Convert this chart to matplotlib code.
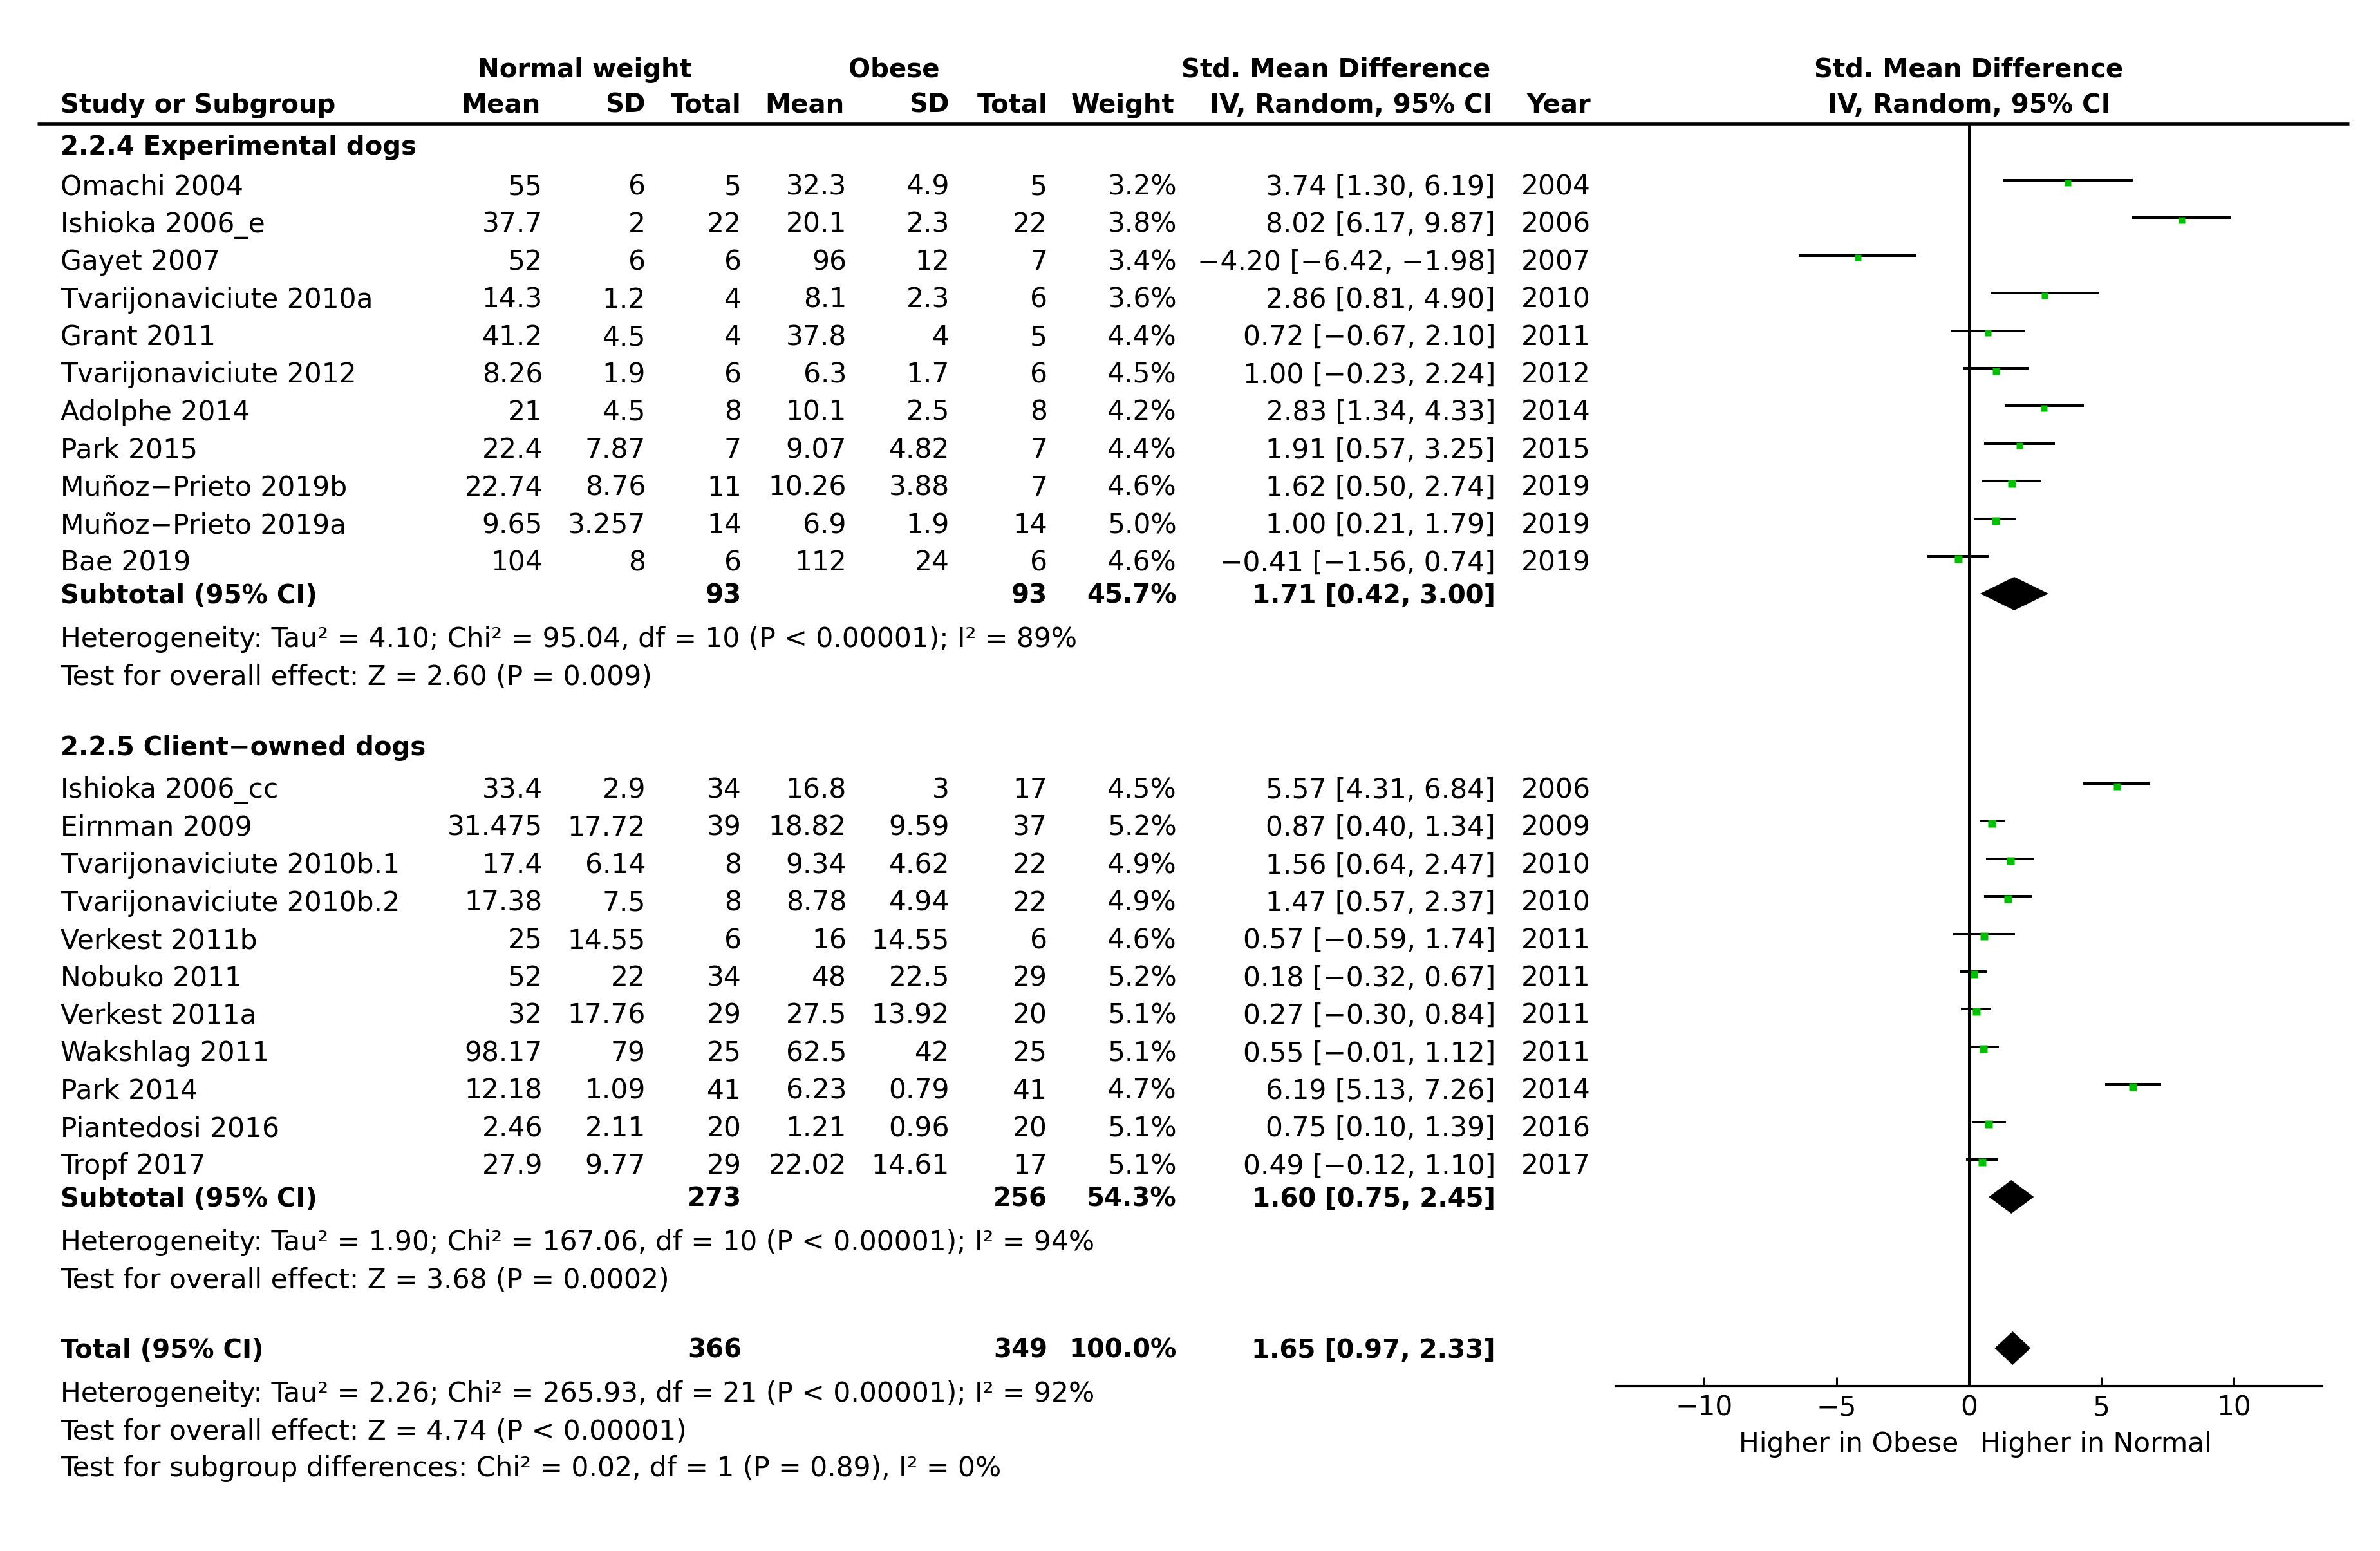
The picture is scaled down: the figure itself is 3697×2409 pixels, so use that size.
import matplotlib
matplotlib.use('Agg')
import matplotlib.pyplot as plt

# ---- data ----
exp_names = ['Omachi 2004', 'Ishioka 2006_e', 'Gayet 2007', 'Tvarijonaviciute 2010a', 'Grant 2011',
             'Tvarijonaviciute 2012', 'Adolphe 2014', 'Park 2015', 'Muñoz−Prieto 2019b',
             'Muñoz−Prieto 2019a', 'Bae 2019']
exp_nm_mean = [55, 37.7, 52, 14.3, 41.2, 8.26, 21, 22.4, 22.74, 9.65, 104]
exp_nm_sd = [6, 2, 6, 1.2, 4.5, 1.9, 4.5, 7.87, 8.76, 3.257, 8]
exp_nm_n = [5, 22, 6, 4, 4, 6, 8, 7, 11, 14, 6]
exp_ob_mean = [32.3, 20.1, 96, 8.1, 37.8, 6.3, 10.1, 9.07, 10.26, 6.9, 112]
exp_ob_sd = [4.9, 2.3, 12, 2.3, 4, 1.7, 2.5, 4.82, 3.88, 1.9, 24]
exp_ob_n = [5, 22, 7, 6, 5, 6, 8, 7, 7, 14, 6]
exp_weight = [3.2, 3.8, 3.4, 3.6, 4.4, 4.5, 4.2, 4.4, 4.6, 5.0, 4.6]
exp_smd = [3.74, 8.02, -4.20, 2.86, 0.72, 1.00, 2.83, 1.91, 1.62, 1.00, -0.41]
exp_lo = [1.30, 6.17, -6.42, 0.81, -0.67, -0.23, 1.34, 0.57, 0.50, 0.21, -1.56]
exp_hi = [6.19, 9.87, -1.98, 4.90, 2.10, 2.24, 4.33, 3.25, 2.74, 1.79, 0.74]
exp_year = [2004, 2006, 2007, 2010, 2011, 2012, 2014, 2015, 2019, 2019, 2019]

cli_names = ['Ishioka 2006_cc', 'Eirnman 2009', 'Tvarijonaviciute 2010b.1', 'Tvarijonaviciute 2010b.2',
             'Verkest 2011b', 'Nobuko 2011', 'Verkest 2011a', 'Wakshlag 2011', 'Park 2014',
             'Piantedosi 2016', 'Tropf 2017']
cli_nm_mean = [33.4, 31.475, 17.4, 17.38, 25, 52, 32, 98.17, 12.18, 2.46, 27.9]
cli_nm_sd = [2.9, 17.72, 6.14, 7.5, 14.55, 22, 17.76, 79, 1.09, 2.11, 9.77]
cli_nm_n = [34, 39, 8, 8, 6, 34, 29, 25, 41, 20, 29]
cli_ob_mean = [16.8, 18.82, 9.34, 8.78, 16, 48, 27.5, 62.5, 6.23, 1.21, 22.02]
cli_ob_sd = [3, 9.59, 4.62, 4.94, 14.55, 22.5, 13.92, 42, 0.79, 0.96, 14.61]
cli_ob_n = [17, 37, 22, 22, 6, 29, 20, 25, 41, 20, 17]
cli_weight = [4.5, 5.2, 4.9, 4.9, 4.6, 5.2, 5.1, 5.1, 4.7, 5.1, 5.1]
cli_smd = [5.57, 0.87, 1.56, 1.47, 0.57, 0.18, 0.27, 0.55, 6.19, 0.75, 0.49]
cli_lo = [4.31, 0.40, 0.64, 0.57, -0.59, -0.32, -0.30, -0.01, 5.13, 0.10, -0.12]
cli_hi = [6.84, 1.34, 2.47, 2.37, 1.74, 0.67, 0.84, 1.12, 7.26, 1.39, 1.10]
cli_year = [2006, 2009, 2010, 2010, 2011, 2011, 2011, 2011, 2014, 2016, 2017]

# subtotal / total: n normal, n obese, weight, smd, lo, hi
sub_labels = ['Subtotal (95% CI)', 'Subtotal (95% CI)', 'Total (95% CI)']
sub_nm_n = [93, 273, 366]
sub_ob_n = [93, 256, 349]
sub_weight = [45.7, 54.3, 100.0]
sub_smd = [1.71, 1.60, 1.65]
sub_lo = [0.42, 0.75, 0.97]
sub_hi = [3.00, 2.45, 2.33]

het_lines = ['Heterogeneity: Tau² = 4.10; Chi² = 95.04, df = 10 (P < 0.00001); I² = 89%',
             'Heterogeneity: Tau² = 1.90; Chi² = 167.06, df = 10 (P < 0.00001); I² = 94%',
             'Heterogeneity: Tau² = 2.26; Chi² = 265.93, df = 21 (P < 0.00001); I² = 92%']
eff_lines = ['Test for overall effect: Z = 2.60 (P = 0.009)',
             'Test for overall effect: Z = 3.68 (P = 0.0002)',
             'Test for overall effect: Z = 4.74 (P < 0.00001)']
subgroup_line = 'Test for subgroup differences: Chi² = 0.02, df = 1 (P = 0.89), I² = 0%'
section_labels = ['2.2.4 Experimental dogs', '2.2.5 Client−owned dogs']
ticks = [-10, -5, 0, 5, 10]

# ---- layout (pixel units of the output image) ----
W, H = 3697, 2409
FS_R = 30.5         # regular text
FS_B = 29           # bold text
GREEN = '#00c000'

x_study = 94
x_nm_mean, x_nm_sd, x_nm_n = 843, 1003, 1152
x_ob_mean, x_ob_sd, x_ob_n = 1315, 1475, 1627
x_w, x_ci, x_year = 1828, 2323, 2363
ax_left, ax_right, ax_top, ax_bot = 2510, 3607, 192, 2153
row_h = 58.4


def half_cap(fs):
    # half of DejaVu cap height in pixels, text is placed by its baseline
    return 0.729 * fs * 100 / 72 / 2


def fmt(v):
    return f'{v:g}'


def fmt_ci(s, l, h):
    return f'{s:.2f} [{l:.2f}, {h:.2f}]'.replace('-', '−')


fig = plt.figure(figsize=(W / 100, H / 100), dpi=100)
ax = fig.add_axes([0, 0, 1, 1])
ax.set_xlim(0, W)
ax.set_ylim(H, 0)
ax.axis('off')

fax = fig.add_axes([ax_left / W, (H - ax_bot) / H, (ax_right - ax_left) / W, (ax_bot - ax_top) / H])
fax.set_xlim(-13.33, 13.33)
fax.set_ylim(ax_bot, ax_top)
fax.patch.set_alpha(0)


def txt(x, y, s, ha='left', bold=False):
    fs = FS_B if bold else FS_R
    ax.text(x, y + half_cap(fs), s, ha=ha, va='baseline', fontsize=fs,
            fontweight='bold' if bold else 'normal')


# headers
txt(908, 105, 'Normal weight', ha='center', bold=True)
txt(1389, 105, 'Obese', ha='center', bold=True)
txt(2075, 105, 'Std. Mean Difference', ha='center', bold=True)
txt(x_study, 160, 'Study or Subgroup', bold=True)
txt(840, 160, 'Mean', ha='right', bold=True)
txt(x_nm_sd, 160, 'SD', ha='right', bold=True)
txt(x_nm_n, 160, 'Total', ha='right', bold=True)
txt(1312, 160, 'Mean', ha='right', bold=True)
txt(x_ob_sd, 160, 'SD', ha='right', bold=True)
txt(x_ob_n, 160, 'Total', ha='right', bold=True)
txt(1824, 160, 'Weight', ha='right', bold=True)
txt(2319, 160, 'IV, Random, 95% CI', ha='right', bold=True)
txt(2471, 160, 'Year', ha='right', bold=True)
fax.text(0, 105 + half_cap(FS_B), 'Std. Mean Difference', ha='center', va='baseline',
         fontsize=FS_B, fontweight='bold', clip_on=False)
fax.text(0, 160 + half_cap(FS_B), 'IV, Random, 95% CI', ha='center', va='baseline',
         fontsize=FS_B, fontweight='bold', clip_on=False)
ax.plot([58, 3649], [192, 192], color='black', lw=3.3, solid_capstyle='butt')

groups = [
    (exp_names, exp_nm_mean, exp_nm_sd, exp_nm_n, exp_ob_mean, exp_ob_sd, exp_ob_n,
     exp_weight, exp_smd, exp_lo, exp_hi, exp_year),
    (cli_names, cli_nm_mean, cli_nm_sd, cli_nm_n, cli_ob_mean, cli_ob_sd, cli_ob_n,
     cli_weight, cli_smd, cli_lo, cli_hi, cli_year),
]
section_y = [225, 1158]
first_row_y = [287, 1224]

for g, (names, nmm, nms, nmn, obm, obs, obn, wts, smd, lo, hi, yr) in enumerate(groups):
    txt(x_study, section_y[g], section_labels[g], bold=True)
    y0 = first_row_y[g]
    for i in range(len(names)):
        y = y0 + i * row_h
        txt(x_study, y, names[i])
        txt(x_nm_mean, y, fmt(nmm[i]), ha='right')
        txt(x_nm_sd, y, fmt(nms[i]), ha='right')
        txt(x_nm_n, y, str(nmn[i]), ha='right')
        txt(x_ob_mean, y, fmt(obm[i]), ha='right')
        txt(x_ob_sd, y, fmt(obs[i]), ha='right')
        txt(x_ob_n, y, str(obn[i]), ha='right')
        txt(x_w, y, f'{wts[i]:.1f}%', ha='right')
        txt(x_ci, y, fmt_ci(smd[i], lo[i], hi[i]), ha='right')
        txt(x_year, y, str(yr[i]))
        # CI line and weight square
        fax.plot([lo[i], hi[i]], [y - 7, y - 7], color='black', lw=2.9, solid_capstyle='butt')
        side = 11 * (wts[i] / 4.5) ** 0.5
        fax.plot(smd[i], y - 3.5, marker='s', ms=side * 0.72, mec='none', mfc=GREEN)
    # subtotal row
    ys = y0 + (len(names) - 1) * row_h + 51
    txt(x_study, ys, sub_labels[g], bold=True)
    txt(x_nm_n, ys, str(sub_nm_n[g]), ha='right', bold=True)
    txt(x_ob_n, ys, str(sub_ob_n[g]), ha='right', bold=True)
    txt(x_w, ys, f'{sub_weight[g]:.1f}%', ha='right', bold=True)
    txt(x_ci, ys, fmt_ci(sub_smd[g], sub_lo[g], sub_hi[g]), ha='right', bold=True)
    fax.fill([sub_lo[g], sub_smd[g], sub_hi[g], sub_smd[g]], [ys, ys - 26, ys, ys + 26],
             color='black', lw=0)
    txt(x_study, ys + 68, het_lines[g])
    txt(x_study, ys + 127, eff_lines[g])

# overall total
yt = 2094
txt(x_study, yt, sub_labels[2], bold=True)
txt(x_nm_n, yt, str(sub_nm_n[2]), ha='right', bold=True)
txt(x_ob_n, yt, str(sub_ob_n[2]), ha='right', bold=True)
txt(x_w, yt, f'{sub_weight[2]:.1f}%', ha='right', bold=True)
txt(x_ci, yt, fmt_ci(sub_smd[2], sub_lo[2], sub_hi[2]), ha='right', bold=True)
fax.fill([sub_lo[2], sub_smd[2], sub_hi[2], sub_smd[2]], [yt, yt - 26, yt, yt + 26],
         color='black', lw=0)
txt(x_study, 2162, het_lines[2])
txt(x_study, 2221, eff_lines[2])
txt(x_study, 2278, subgroup_line)

# forest axis
fax.axvline(0, color='black', lw=3.6)
for s in ['top', 'left', 'right']:
    fax.spines[s].set_visible(False)
fax.spines['bottom'].set_linewidth(3.0)
fax.set_yticks([])
fax.set_xticks(ticks)
fax.tick_params(axis='x', direction='in', length=10, width=2.2, labelsize=FS_R, pad=9)
fax.annotate('Higher in Obese', xy=(0, 2240 + half_cap(FS_R)), xytext=(-16, 0),
             textcoords='offset pixels', ha='right', va='baseline', fontsize=FS_R,
             annotation_clip=False)
fax.annotate('Higher in Normal', xy=(0, 2240 + half_cap(FS_R)), xytext=(18, 0),
             textcoords='offset pixels', ha='left', va='baseline', fontsize=FS_R,
             annotation_clip=False)

fig.savefig('out.png', dpi=100)
